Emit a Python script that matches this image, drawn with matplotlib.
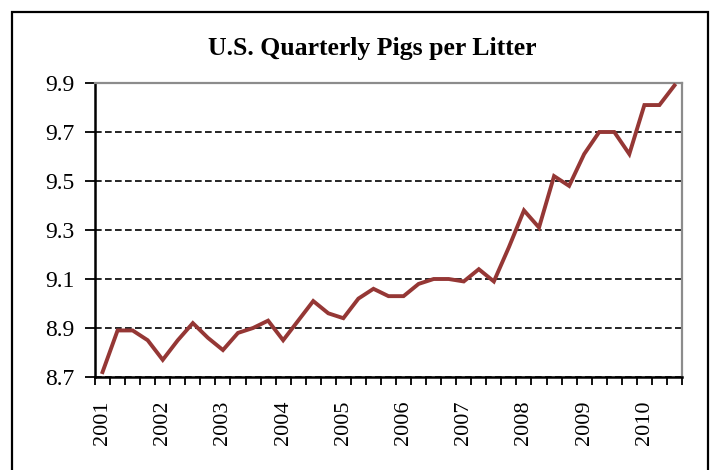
import numpy as np
import matplotlib
matplotlib.use('Agg')
import matplotlib.pyplot as plt
from matplotlib.patches import Rectangle

# Quarterly pigs per litter, 2001 Q1 - 2010 Q3
years = ['2001', '2002', '2003', '2004', '2005', '2006', '2007', '2008', '2009', '2010']
pigs = [8.72, 8.89, 8.89, 8.85,
        8.77, 8.85, 8.92, 8.86,
        8.81, 8.88, 8.90, 8.93,
        8.85, 8.93, 9.01, 8.96,
        8.94, 9.02, 9.06, 9.03,
        9.03, 9.08, 9.10, 9.10,
        9.09, 9.14, 9.09, 9.23,
        9.38, 9.31, 9.52, 9.48,
        9.61, 9.70, 9.70, 9.61,
        9.81, 9.81, 9.89]
y_ticks = [8.7, 8.9, 9.1, 9.3, 9.5, 9.7, 9.9]

plt.rcParams['font.family'] = ['Liberation Serif', 'DejaVu Serif']

fig = plt.figure(figsize=(7.12, 4.70), dpi=100)
ax = fig.add_axes([95 / 712, 93 / 470, 587 / 712, 294 / 470])

x = np.arange(len(pigs))
ax.plot(x, pigs, color='#953735', linewidth=2.8, solid_joinstyle='miter', zorder=3)

ax.set_xlim(-0.5, len(pigs) - 0.5)
ax.set_ylim(8.7, 9.9)
ax.set_yticks(y_ticks)
ax.set_yticklabels(['%.1f' % v for v in y_ticks])

# year labels at the first quarter of each year, tick marks between categories
ax.set_xticks(np.arange(0, len(pigs), 4))
ax.set_xticklabels(years, rotation=90)
ax.set_xticks(np.arange(-0.5, len(pigs), 1), minor=True)
ax.tick_params(axis='x', which='major', length=0, pad=17, labelsize=16)
ax.tick_params(axis='x', which='minor', length=6, width=1.3, direction='out', color='black')
ax.tick_params(axis='y', length=7, width=1.3, direction='out', pad=8, labelsize=17)

ax.grid(axis='y', color='black', linestyle=(0, (4, 2)), linewidth=1.2)
ax.set_axisbelow(True)

for side in ['left', 'bottom']:
    ax.spines[side].set_color('black')
    ax.spines[side].set_linewidth(1.8)
for side in ['top', 'right']:
    ax.spines[side].set_color('#8c8c8c')
    ax.spines[side].set_linewidth(1.6)

fig.text(372 / 712, 1 - 48 / 470, 'U.S. Quarterly Pigs per Litter', ha='center', va='center',
         fontsize=18.5, fontweight='bold')

# chart outer frame (bottom edge runs off the picture)
fig.patches.append(Rectangle((12 / 712, -0.05), 696 / 712, 1.05 - 12 / 470,
                             transform=fig.transFigure, fill=False,
                             edgecolor='black', linewidth=1.6))

fig.savefig('out.png', dpi=100)
